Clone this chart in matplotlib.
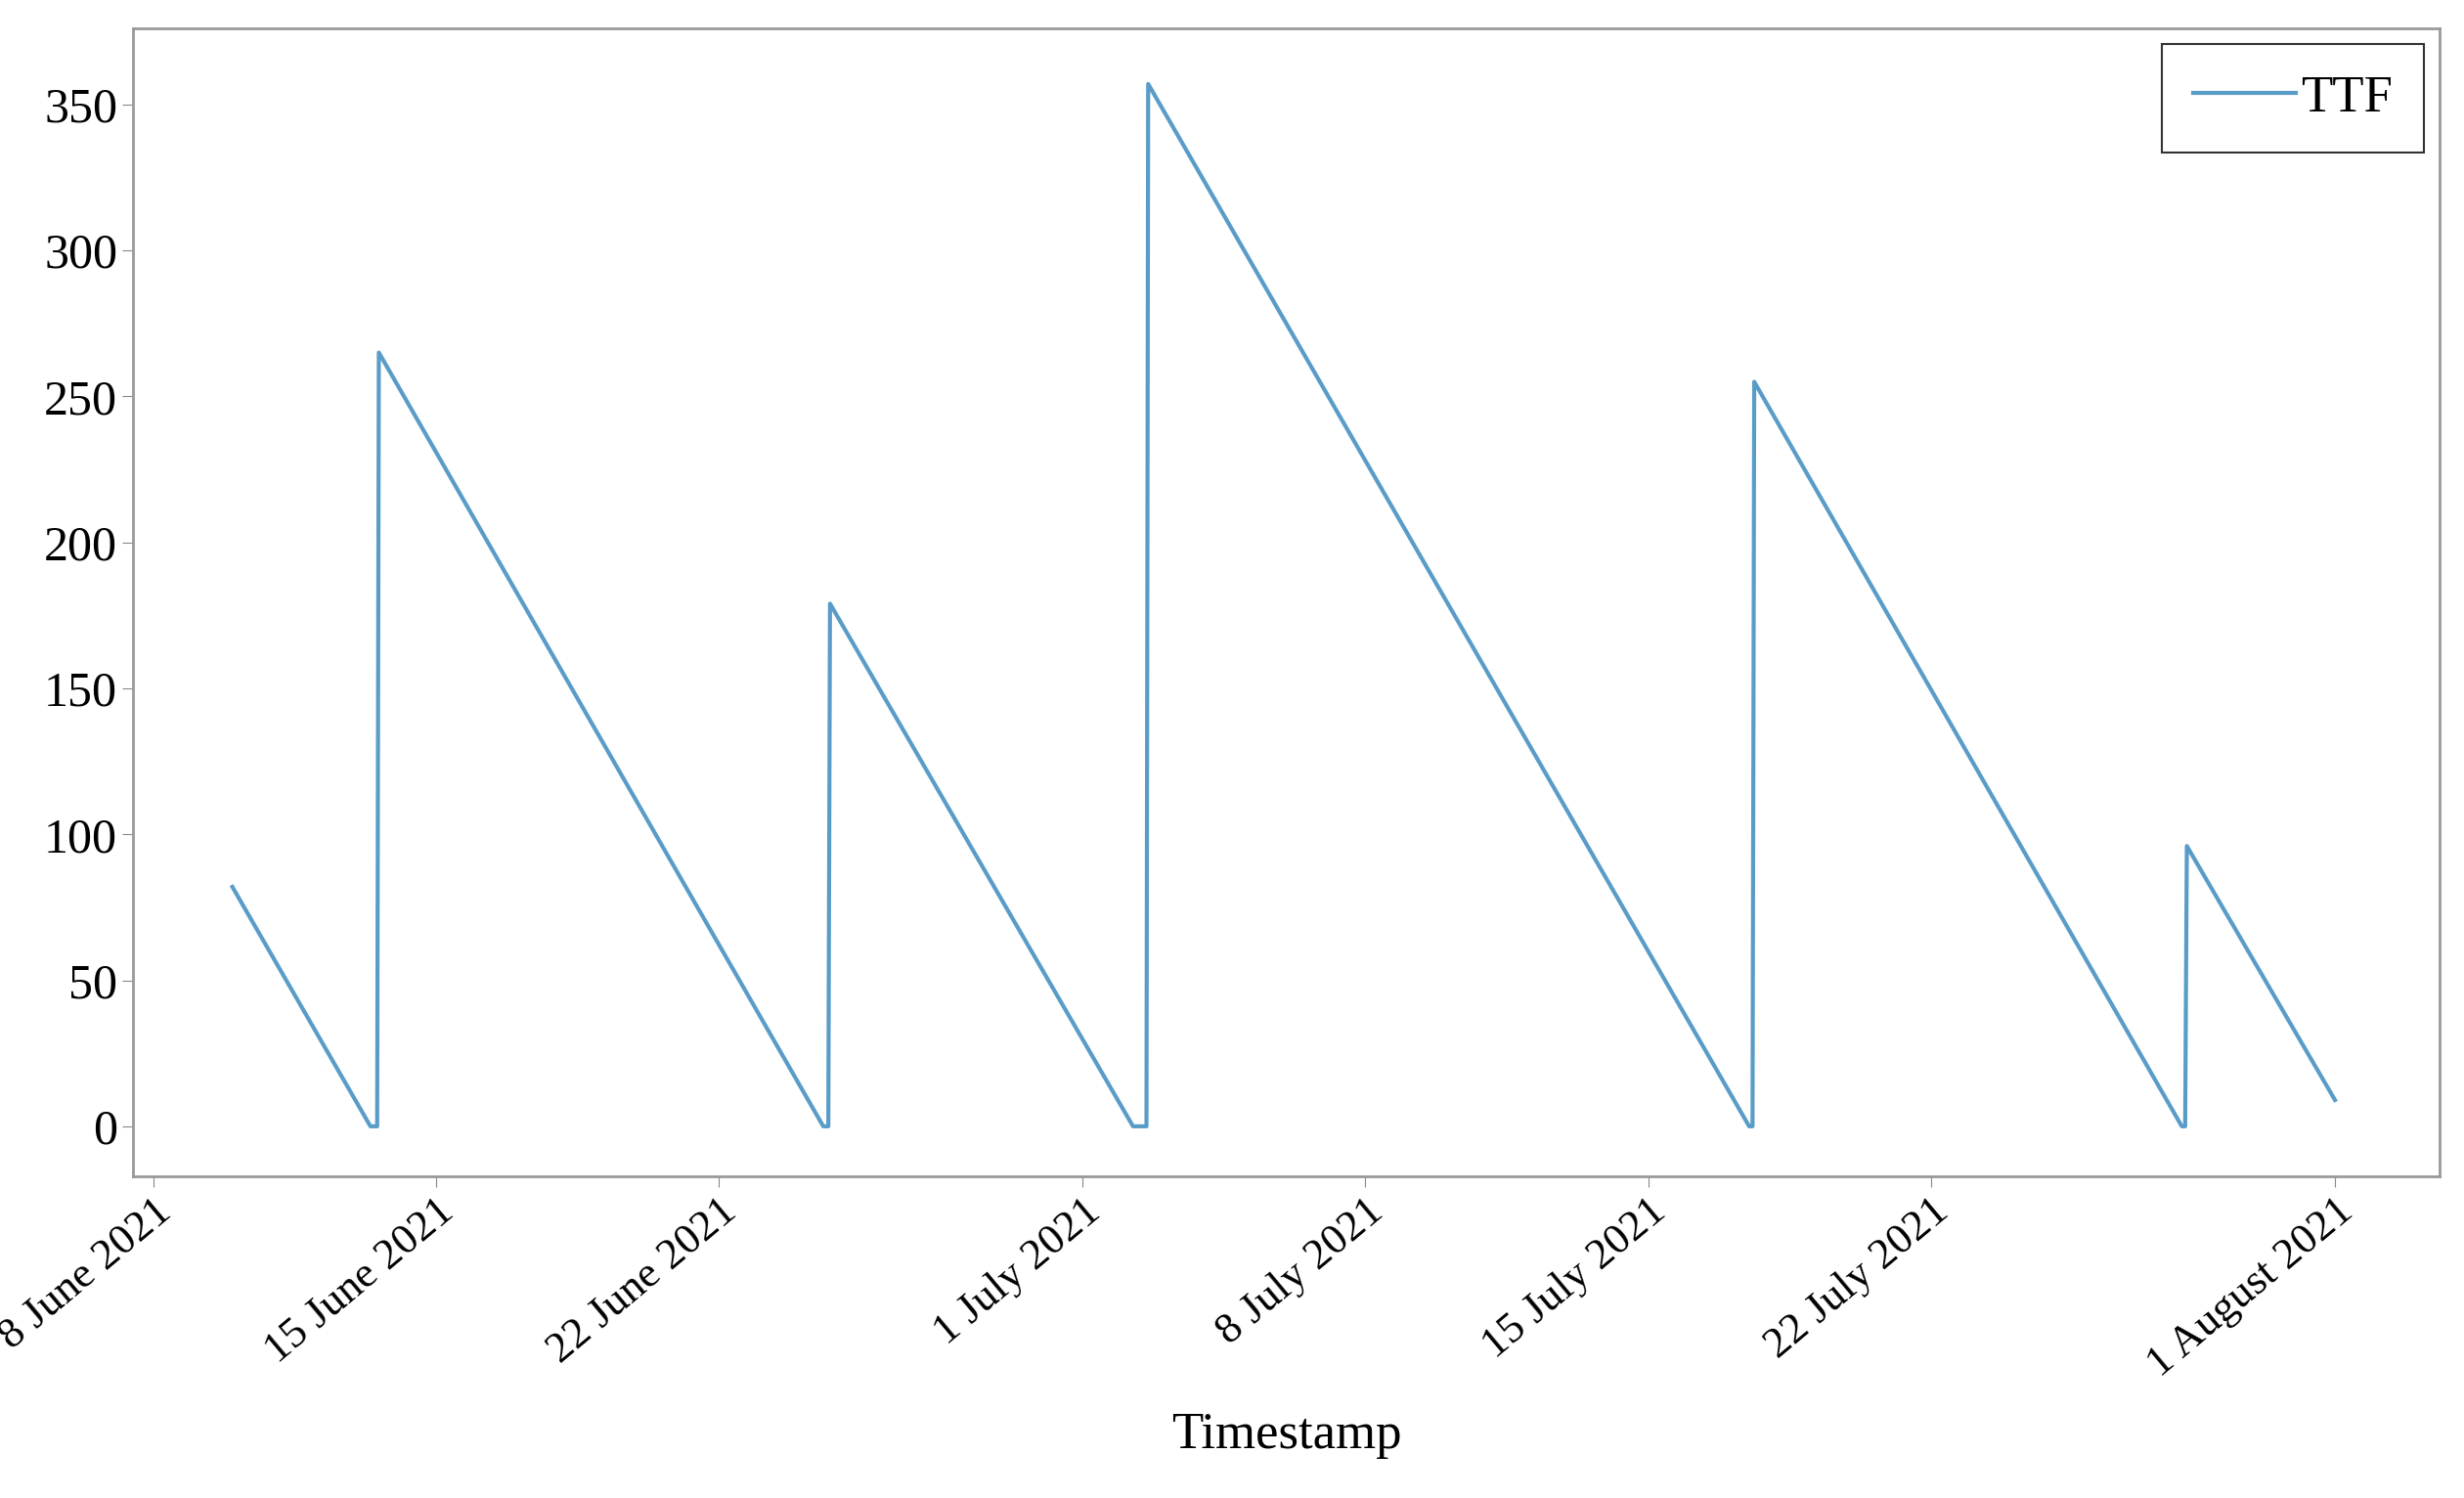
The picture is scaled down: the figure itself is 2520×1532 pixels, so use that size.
import matplotlib
matplotlib.use("Agg")
import matplotlib.pyplot as plt
import matplotlib.transforms as mtrans
import pandas as pd

times = ["2021-06-09 23:00", "2021-06-13 09:00", "2021-06-13 13:00", "2021-06-13 14:00",
         "2021-06-24 14:00", "2021-06-24 17:00", "2021-06-24 18:00",
         "2021-07-02 06:00", "2021-07-02 14:00", "2021-07-02 15:00",
         "2021-07-17 12:00", "2021-07-17 14:00", "2021-07-17 15:00",
         "2021-07-28 05:00", "2021-07-28 07:00", "2021-07-28 08:00",
         "2021-08-01 00:00"]
ttf = [82, 0, 0, 265, 0, 0, 179, 0, 0, 357, 0, 0, 255, 0, 0, 96, 9]
tick_dates = ["2021-06-08", "2021-06-15", "2021-06-22", "2021-07-01",
              "2021-07-08", "2021-07-15", "2021-07-22", "2021-08-01"]
tick_labels = ["8 June 2021", "15 June 2021", "22 June 2021", "1 July 2021",
               "8 July 2021", "15 July 2021", "22 July 2021", "1 August 2021"]

plt.rcParams['font.family'] = ['Liberation Serif', 'DejaVu Serif']
fig = plt.figure(figsize=(25.2, 15.32), dpi=100)
ax = fig.add_axes([0.054, 0.215, 0.936, 0.766])
ax.plot(pd.to_datetime(times), ttf, color="#5a9cc8", lw=3, label="TTF")
ax.set_xticks(pd.to_datetime(tick_dates))
ax.set_xticklabels(tick_labels, rotation=40, ha="right", rotation_mode="anchor")
off = mtrans.ScaledTranslation(0.45, 0, fig.dpi_scale_trans)
for lbl in ax.get_xticklabels():
    lbl.set_transform(lbl.get_transform() + off)
ax.set_xlim(pd.Timestamp("2021-06-07 12:00"), pd.Timestamp("2021-08-03 14:00"))
ax.set_ylim(-17, 376)
ax.set_yticks(range(0, 351, 50))
ax.tick_params(axis="y", labelsize=36, length=8, color="#888888")
ax.tick_params(axis="x", labelsize=32, length=8, color="#888888")
for s in ax.spines.values():
    s.set_color("#999999"); s.set_linewidth(2)
ax.set_xlabel("Timestamp", fontsize=38, labelpad=20)
leg = ax.legend(loc="upper right", fontsize=38, fancybox=False, edgecolor="black",
                handlelength=2.0, handletextpad=0.1, borderaxespad=0.3, borderpad=0.6)
leg.get_frame().set_linewidth(1.5)
fig.savefig("out.png")
